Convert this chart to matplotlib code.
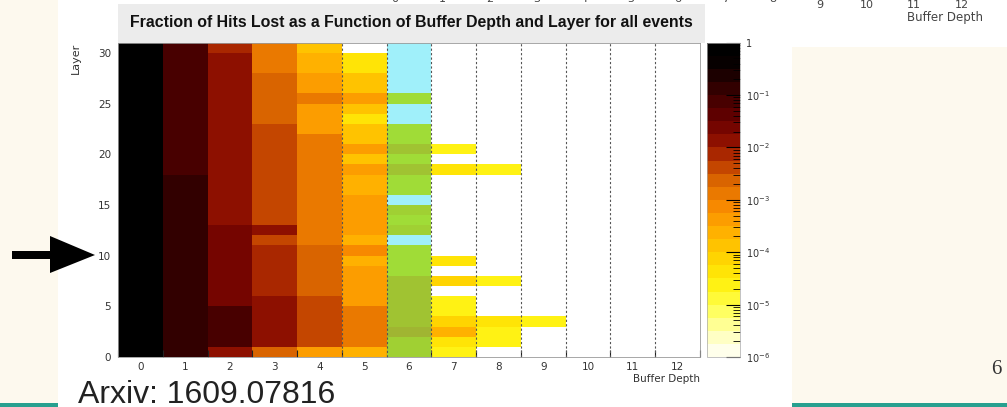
import numpy as np
import matplotlib
matplotlib.use("Agg")
import matplotlib.pyplot as plt
from matplotlib.colors import LinearSegmentedColormap, ListedColormap, LogNorm
from matplotlib.patches import Rectangle, Polygon
from matplotlib import font_manager
from matplotlib.ticker import LogLocator, NullFormatter, FixedLocator

# ---------------- data ----------------
buffer_depth = [0, 1, 2, 3, 4, 5, 6, 7, 8, 9, 10, 11, 12]
x_tick_labels = ["0", "1", "2", "3", "4", "5", "6", "7", "8", "9", "10", "11", "12"]
n_layers = 31
y_ticks = [0, 5, 10, 15, 20, 25, 30]
y_tick_labels = ["0", "5", "10", "15", "20", "25", "30"]
cbar_ticks = [1e-6, 1e-5, 1e-4, 1e-3, 1e-2, 1e-1, 1]
cbar_labels = [r"$10^{-6}$", r"$10^{-5}$", r"$10^{-4}$", r"$10^{-3}$",
               r"$10^{-2}$", r"$10^{-1}$", "1"]
title = "Fraction of Hits Lost as a Function of Buffer Depth and Layer for all events"
x_label = "Buffer Depth"
y_label = "Layer"
source_text = "Arxiv: 1609.07816"
page_number = "6"
highlight_depth = 6

# fraction of hits lost, index = layer 0..30, one list per buffer depth
depth_0 = [0.7, 0.7, 0.7, 0.7, 0.7, 0.7, 0.7, 0.7, 0.7, 0.7, 0.7, 0.7, 0.7, 0.7, 0.7, 0.7,
           0.7, 0.7, 0.7, 0.7, 0.7, 0.7, 0.7, 0.7, 0.7, 0.7, 0.7, 0.7, 0.7, 0.7, 0.7]
depth_1 = [0.17, 0.17, 0.17, 0.17, 0.17, 0.17, 0.17, 0.17, 0.17, 0.17, 0.17, 0.17, 0.17, 0.17,
           0.17, 0.17, 0.17, 0.17, 0.085, 0.085, 0.085, 0.085, 0.085, 0.085, 0.085, 0.085,
           0.085, 0.085, 0.085, 0.085, 0.085]
depth_2 = [0.011, 0.07, 0.07, 0.07, 0.07, 0.028, 0.028, 0.028, 0.028, 0.028, 0.028, 0.028,
           0.028, 0.016, 0.016, 0.016, 0.016, 0.016, 0.016, 0.016, 0.016, 0.016, 0.016, 0.016,
           0.016, 0.016, 0.010, 0.010, 0.010, 0.010, 0.0065]
depth_3 = [3.0e-3, 1.4e-2, 1.4e-2, 1.4e-2, 1.4e-2, 1.4e-2, 6.0e-3, 6.0e-3, 6.0e-3, 6.0e-3,
           6.0e-3, 3.5e-3, 1.05e-2, 5.2e-3, 5.2e-3, 5.2e-3, 5.2e-3, 5.2e-3, 5.2e-3, 5.2e-3,
           5.2e-3, 5.2e-3, 5.2e-3, 2.3e-3, 2.3e-3, 2.3e-3, 2.3e-3, 2.3e-3, 1.0e-3, 1.0e-3, 1.0e-3]
depth_4 = [5.0e-4, 4.5e-3, 4.5e-3, 4.5e-3, 4.5e-3, 4.5e-3, 2.3e-3, 2.3e-3, 2.3e-3, 2.3e-3,
           2.3e-3, 1.1e-3, 1.1e-3, 1.1e-3, 1.1e-3, 1.1e-3, 1.1e-3, 1.1e-3, 1.1e-3, 1.1e-3,
           1.1e-3, 1.1e-3, 5.0e-4, 5.0e-4, 5.0e-4, 1.15e-3, 5.0e-4, 5.0e-4, 2.5e-4, 2.5e-4, 1.45e-4]
depth_5 = [2.5e-4, 1.6e-3, 1.6e-3, 1.6e-3, 1.6e-3, 4.5e-4, 4.5e-4, 4.5e-4, 3.5e-4, 2.0e-4,
           5.8e-4, 1.8e-4, 3.5e-4, 3.5e-4, 3.5e-4, 3.5e-4, 2.5e-4, 1.8e-4, 3.5e-4, 1.4e-4,
           3.5e-4, 1.4e-4, 1.0e-4, 3.6e-5, 1.0e-4, 3.5e-4, 1.4e-4, 1.0e-4, 3.6e-5, 3.6e-5, 0]
depth_6 = [6e-5, 7e-5, 2.5e-4, 1.5e-4, 1e-4, 1e-4, 1e-4, 1e-4, 4e-5, 5e-5, 4e-5, 0, 6e-5,
           5e-5, 6e-5, 0, 5e-5, 5e-5, 1.5e-4, 4e-5, 1.5e-4, 5e-5, 5e-5, 0, 0, 4e-5, 0, 0, 0, 0, 0]
depth_7 = [2e-5, 4e-5, 2.5e-4, 9e-5, 3e-5, 2e-5, 0, 6e-5, 0, 3.5e-5, 0, 0, 0, 0, 0, 0, 0, 0,
           5e-5, 0, 3e-5, 0, 0, 0, 0, 0, 0, 0, 0, 0, 0]
depth_8 = [0, 1.8e-5, 1.8e-5, 4e-5, 0, 0, 0, 2.2e-5, 0, 0, 0, 0, 0, 0, 0, 0, 0, 0, 3e-5, 0,
           0, 0, 0, 0, 0, 0, 0, 0, 0, 0, 0]
depth_9 = [0, 0, 0, 2.2e-5, 0, 0, 0, 0, 0, 0, 0, 0, 0, 0, 0, 0, 0, 0, 0, 0, 0, 0, 0, 0, 0, 0,
           0, 0, 0, 0, 0]
depth_10 = [0] * 31
depth_11 = [0] * 31
depth_12 = [0] * 31

# ---------------- style / layout ----------------
W, H = 1007, 407
CREAM = "#fdf9ee"
TEAL = "#27a08f"
CYAN = np.array([160, 240, 250]) / 255.0
AX_L, AX_R, AX_T, AX_B = 118, 700, 42.7, 357
CB_L, CB_R = 707, 740


def fx(px):
    return px / W


def fy(py):
    return 1 - py / H


avail = {f.name for f in font_manager.fontManager.ttflist}
SANS = "DejaVu Sans"
TITLE_FONT = "Liberation Sans Narrow" if "Liberation Sans Narrow" in avail else "Liberation Sans"
plt.rcParams["font.family"] = SANS
plt.rcParams["mathtext.fontset"] = "dejavusans"

fig = plt.figure(figsize=(W / 100, H / 100), dpi=100)
fig.patch.set_facecolor("white")

# background (slide) layer in pixel coordinates
bg = fig.add_axes([0, 0, 1, 1], zorder=0)
bg.set_xlim(0, W)
bg.set_ylim(H, 0)
bg.axis("off")
bg.add_patch(Rectangle((0, 0), 58, H, color=CREAM, lw=0))
bg.add_patch(Rectangle((792, 47), W - 792, H - 47, color=CREAM, lw=0))
bg.add_patch(Rectangle((0, 403), 58, 5, color=TEAL, lw=0))
bg.add_patch(Rectangle((792, 403), W - 792, 5, color=TEAL, lw=0))
bg.add_patch(Rectangle((118, 4), 587, 38.7, color="#ececec", lw=0))
# arrow pointing at layer 10
bg.add_patch(Rectangle((12, 251), 40, 8, color="black", lw=0))
bg.add_patch(Polygon([(50, 236), (95, 255), (50, 273)], closed=True, color="black", lw=0))

# colormap (ROOT-like inverted dark body radiator)
anchors = [(0.0, (255, 255, 235)), (0.05, (255, 255, 190)), (0.145, (255, 255, 80)),
           (0.23, (255, 240, 10)), (0.31, (255, 210, 0)), (0.385, (255, 180, 0)),
           (0.47, (250, 140, 0)), (0.55, (225, 110, 0)), (0.63, (185, 55, 0)),
           (0.68, (150, 20, 0)), (0.76, (105, 0, 0)), (0.88, (45, 0, 0)),
           (0.96, (5, 0, 0)), (1.0, (0, 0, 0))]
NBANDS = 24
base = LinearSegmentedColormap.from_list(
    "rootheat", [(t, tuple(c / 255 for c in rgb)) for t, rgb in anchors], N=NBANDS)
base_cols = base(np.arange(NBANDS))[:, :3]
tinted_cols = 0.8 * base_cols * CYAN + 0.2 * CYAN
tinted = ListedColormap(tinted_cols, name="tinted")
norm = LogNorm(vmin=1e-6, vmax=1)

columns = [depth_0, depth_1, depth_2, depth_3, depth_4, depth_5, depth_6, depth_7,
           depth_8, depth_9, depth_10, depth_11, depth_12]
Z = np.array(columns, dtype=float).T  # (layers, depths)
Zm = np.ma.masked_less_equal(Z, 0)
xe = np.arange(len(buffer_depth) + 1) - 0.5
ye = np.arange(n_layers + 1)

ax = fig.add_axes([fx(AX_L), fy(AX_B), (AX_R - AX_L) / W, (AX_B - AX_T) / H], zorder=2)
ax.set_facecolor("white")
mesh = ax.pcolormesh(xe, ye, Zm, cmap=base, norm=norm, zorder=1)

# highlighted column
ax.add_patch(Rectangle((highlight_depth - 0.5, 0), 1, n_layers, color=CYAN, lw=0, zorder=2))
colidx = np.tile(np.arange(len(buffer_depth)), (n_layers, 1))
Zh = np.ma.masked_where((colidx != highlight_depth) | (Z <= 0), Z)
ax.pcolormesh(xe, ye, Zh, cmap=tinted, norm=norm, zorder=3)

for xv in xe[5:-1]:
    ax.axvline(xv, color="#555555", lw=0.8, ls=(0, (2, 2)), zorder=4)

ax.set_xlim(xe[0], xe[-1])
ax.set_ylim(0, n_layers)
ax.set_xticks(buffer_depth)
ax.set_xticklabels(x_tick_labels)
ax.set_yticks(y_ticks)
ax.set_yticklabels(y_tick_labels)
ax.xaxis.set_minor_locator(FixedLocator(list(xe)))
ax.tick_params(axis="x", which="major", length=0, pad=3.5, labelsize=7.5, labelcolor="#333333")
ax.tick_params(axis="x", which="minor", direction="in", length=5, width=0.8, color="#222222")
ax.tick_params(axis="y", which="major", length=0, pad=5, labelsize=7.5, labelcolor="#333333")
for sp in ax.spines.values():
    sp.set_color("#999999")
    sp.set_linewidth(0.6)
    sp.set_zorder(5)

# colorbar
cax = fig.add_axes([fx(CB_L), fy(AX_B), (CB_R - CB_L) / W, (AX_B - AX_T) / H], zorder=2)
cb = fig.colorbar(mesh, cax=cax)
cb.outline.set_linewidth(0.5)
cb.outline.set_edgecolor("#aaaaaa")
cb.set_ticks(cbar_ticks)
cb.set_ticklabels(cbar_labels)
cax.yaxis.set_minor_locator(LogLocator(base=10, subs=np.arange(2, 10)))
cax.yaxis.set_minor_formatter(NullFormatter())
cax.tick_params(which="major", direction="in", length=10, width=0.8, color="black",
                labelsize=7, labelcolor="#333333", pad=4)
cax.tick_params(which="minor", direction="in", length=5, width=0.6, color="black")

# texts
ttl = fig.text(fx(411), fy(22), title, family=TITLE_FONT, fontweight="bold", fontsize=10,
               ha="center", va="center", color="#111111")
fig.canvas.draw()
wpx = ttl.get_window_extent().width
ttl.set_fontsize(10 * 564 / wpx)

fig.text(fx(76), fy(43), y_label, rotation=90, ha="center", va="top", fontsize=8,
         color="#333333")
fig.text(fx(700), fy(378.5), x_label, ha="right", va="center", fontsize=7.5, color="#333333")

# remnant of previous chart at top
for i, lab in enumerate(x_tick_labels):
    xpix = 395 + 47.2 * i
    ypix = -1.5 if i < 9 else 5.5
    fig.text(fx(xpix), fy(ypix), lab, ha="center", va="center", fontsize=8, color="#444444")
fig.text(fx(983), fy(18), x_label, ha="right", va="center", fontsize=8.5, color="#444444")

fig.text(fx(78), fy(403), source_text, family="Liberation Sans", fontsize=23,
         ha="left", va="baseline", color="#222222")
fig.text(fx(996), fy(370), page_number, family="Liberation Serif", fontsize=15,
         ha="center", va="center", color="#333333")

fig.savefig("out.png", dpi=100, facecolor=fig.get_facecolor())
